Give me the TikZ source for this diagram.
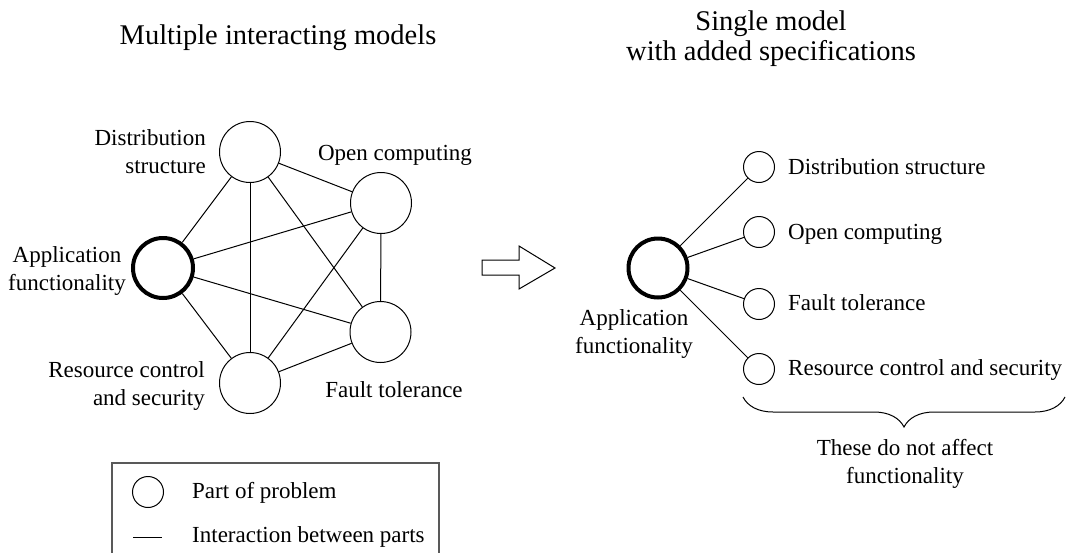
\documentclass[tikz,border=0pt]{standalone}
\usepackage{fontspec}
\setmainfont{Liberation Serif}
\usetikzlibrary{decorations.pathreplacing}
\begin{document}
\begin{tikzpicture}[x=1pt,y=-1pt,
  every node/.style={font=\fontsize{23}{28}\selectfont},
  part/.style={circle,draw,line width=1pt,minimum size=61pt,inner sep=0pt},
  mainpart/.style={circle,draw,line width=4pt,minimum size=60pt,inner sep=0pt},
  smallpart/.style={circle,draw,line width=1pt,minimum size=31pt,inner sep=0pt},
  rmain/.style={circle,draw,line width=4pt,minimum size=59pt,inner sep=0pt},
  link/.style={line width=1pt},
  lbl/.style={inner sep=0pt,align=center},
  ttl/.style={inner sep=0pt,align=center,font=\fontsize{28.5}{30}\selectfont}]
\useasboundingbox (0,0) rectangle (1066,552);
% titles
\node[ttl,anchor=base] (t1) at (278,44) {Multiple interacting models};
\node[ttl] (t2) at (771,38.4) {Single model\\with added specifications};
% left graph
\node[part] (ds) at (250,152) {};
\node[part] (oc) at (381,203) {};
\node[mainpart] (af) at (163,268) {};
\node[part] (ft) at (380.5,332) {};
\node[part] (rc) at (250,383) {};
\foreach \a/\b in {ds/oc,ds/af,ds/rc,ds/ft,oc/af,oc/rc,oc/ft,af/ft,af/rc,rc/ft}
  \draw[link] (\a) -- (\b);
\node[lbl,anchor=east,align=right] (lds) at (206,151.2) {Distribution\\structure};
\node[lbl,anchor=base] (loc) at (395,160) {Open computing};
\node[lbl] (laf) at (67,270.5) {Application\\functionality};
\node[lbl,anchor=east,align=right] (lrc) at (205,385.7) {Resource control\\and security};
\node[lbl,anchor=base] (lft) at (394,397) {Fault tolerance};
% block arrow
\draw[line width=1pt] (482,260) -- (519,260) -- (519,246) -- (555,268) -- (519,289) -- (519,275) -- (482,275) -- cycle;
% right graph
\node[rmain] (raf) at (658,268) {};
\node[smallpart] (r1) at (759,167) {};
\node[smallpart] (r2) at (759,232) {};
\node[smallpart] (r3) at (759,304) {};
\node[smallpart] (r4) at (759,369) {};
\foreach \b in {r1,r2,r3,r4} \draw[link] (raf) -- (\b);
\node[lbl,anchor=base west] (lr1) at (788,174) {Distribution structure};
\node[lbl,anchor=base west] (lr2) at (788,239) {Open computing};
\node[lbl,anchor=base west] (lr3) at (788,310) {Fault tolerance};
\node[lbl,anchor=base west] (lr4) at (788,375) {Resource control and security};
\node[lbl] (lraf) at (634,333.7) {Application\\functionality};
% brace
\coordinate (bl) at (743,397);
\coordinate (br) at (1065,397);
\draw[line width=1pt,decorate,decoration={brace,amplitude=30pt}] (br) -- (bl);
\node[lbl] (bt) at (905,463.7) {These do not affect\\functionality};
% legend
\coordinate (k1) at (112,560);
\coordinate (k2) at (112,463);
\coordinate (k3) at (439,463);
\coordinate (k4) at (439,560);
\draw[line width=1.5pt,black!65] (k1) -- (k2) -- (k3) -- (k4);
\node[smallpart] (lc) at (148,492) {};
\coordinate (la) at (133,537);
\coordinate (lb) at (162,537);
\draw[link] (la) -- (lb);
\node[lbl,anchor=base west] (lt1) at (192,498) {Part of problem};
\node[lbl,anchor=base west] (lt2) at (192,542) {Interaction between parts};
\end{tikzpicture}
\end{document}
